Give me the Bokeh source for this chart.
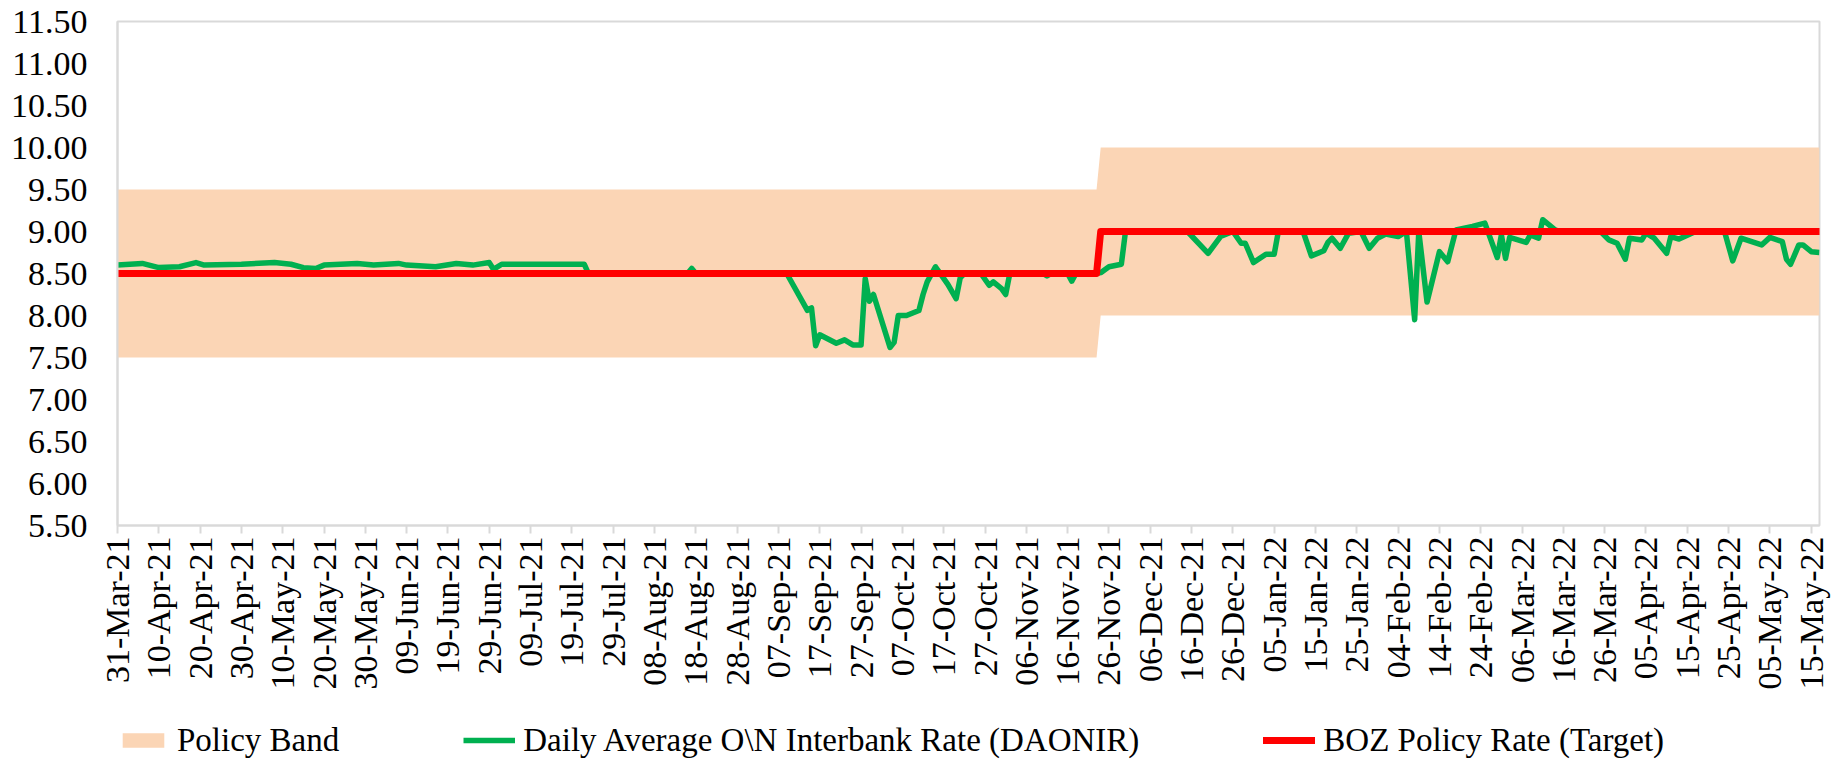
import numpy as np
import pandas as pd
from bokeh.plotting import figure
from bokeh.layouts import column
from bokeh.models import (Range1d, FixedTicker, NumeralTickFormatter, DatetimeTickFormatter,
                          ColumnDataSource, Legend, LegendItem)
from bokeh.embed import file_html
from bokeh.resources import INLINE

# ---------------- data ----------------
band_dates = ["2021-03-31", "2021-11-23", "2021-11-24", "2022-05-17"]
band_lower = [7.5, 7.5, 8.0, 8.0]
band_upper = [9.5, 9.5, 10.0, 10.0]

policy_dates = ["2021-03-31", "2021-11-23", "2021-11-24", "2022-05-17"]
policy_rate = [8.5, 8.5, 9.0, 9.0]

daonir_dates = [
    "2021-03-31", "2021-04-06", "2021-04-10", "2021-04-15", "2021-04-19", "2021-04-21",
    "2021-04-30", "2021-05-08", "2021-05-12", "2021-05-15", "2021-05-18", "2021-05-20",
    "2021-05-28", "2021-06-01", "2021-06-07", "2021-06-09", "2021-06-16", "2021-06-21",
    "2021-06-25", "2021-06-29", "2021-06-30", "2021-07-02", "2021-07-22", "2021-07-23",
    "2021-08-16", "2021-08-17", "2021-08-18", "2021-09-09", "2021-09-14", "2021-09-15",
    "2021-09-16", "2021-09-17", "2021-09-21", "2021-09-23", "2021-09-25", "2021-09-27",
    "2021-09-28", "2021-09-29", "2021-09-30", "2021-10-04", "2021-10-05", "2021-10-06",
    "2021-10-08", "2021-10-11", "2021-10-12", "2021-10-13", "2021-10-15", "2021-10-18",
    "2021-10-20", "2021-10-21", "2021-10-22", "2021-10-26", "2021-10-28", "2021-10-29",
    "2021-10-31", "2021-11-01", "2021-11-02", "2021-11-10", "2021-11-11", "2021-11-12",
    "2021-11-16", "2021-11-17", "2021-11-18", "2021-11-23", "2021-11-24", "2021-11-26",
    "2021-11-29", "2021-11-30", "2021-12-15", "2021-12-20", "2021-12-23", "2021-12-26",
    "2021-12-28", "2021-12-29", "2021-12-31", "2022-01-03", "2022-01-05", "2022-01-06",
    "2022-01-12", "2022-01-14", "2022-01-17", "2022-01-18", "2022-01-19", "2022-01-21",
    "2022-01-23", "2022-01-26", "2022-01-28", "2022-01-30", "2022-02-01", "2022-02-04",
    "2022-02-06", "2022-02-08", "2022-02-09", "2022-02-11", "2022-02-14", "2022-02-16",
    "2022-02-18", "2022-02-22", "2022-02-25", "2022-02-28", "2022-03-01", "2022-03-02",
    "2022-03-03", "2022-03-07", "2022-03-08", "2022-03-10", "2022-03-11", "2022-03-14",
    "2022-03-15", "2022-03-25", "2022-03-27", "2022-03-29", "2022-03-31", "2022-04-01",
    "2022-04-04", "2022-04-05", "2022-04-07", "2022-04-10", "2022-04-11", "2022-04-13",
    "2022-04-17", "2022-04-24", "2022-04-26", "2022-04-28", "2022-05-03", "2022-05-05",
    "2022-05-08", "2022-05-09", "2022-05-10", "2022-05-12", "2022-05-13", "2022-05-15",
    "2022-05-17",
]
daonir_values = [
    8.60, 8.62, 8.57, 8.58, 8.63, 8.60,
    8.61, 8.63, 8.61, 8.57, 8.56, 8.60,
    8.62, 8.60, 8.62, 8.60, 8.58, 8.62,
    8.60, 8.63, 8.55, 8.61, 8.61, 8.50,
    8.50, 8.56, 8.50, 8.50, 8.06, 8.09,
    7.64, 7.77, 7.67, 7.71, 7.65, 7.65,
    8.44, 8.17, 8.25, 7.62, 7.68, 8.00,
    8.00, 8.06, 8.25, 8.40, 8.58, 8.37,
    8.20, 8.45, 8.50, 8.50, 8.36, 8.40,
    8.32, 8.25, 8.50, 8.50, 8.47, 8.50,
    8.50, 8.41, 8.50, 8.50, 8.51, 8.58,
    8.61, 9.00, 9.00, 8.74, 8.94, 9.00,
    8.86, 8.86, 8.63, 8.73, 8.73, 9.00,
    9.00, 8.71, 8.77, 8.87, 8.92, 8.80,
    8.98, 9.00, 8.80, 8.92, 8.97, 8.94,
    9.00, 7.95, 9.00, 8.16, 8.76, 8.64,
    9.02, 9.06, 9.10, 8.69, 8.96, 8.68,
    8.93, 8.87, 8.96, 8.92, 9.14, 9.02,
    9.00, 9.00, 8.90, 8.86, 8.67, 8.92,
    8.90, 8.98, 8.92, 8.74, 8.94, 8.91,
    9.00, 9.00, 8.65, 8.92, 8.84, 8.93,
    8.88, 8.67, 8.61, 8.84, 8.84, 8.76,
    8.75,
]

x_tick_labels = [
    "31-Mar-21", "10-Apr-21", "20-Apr-21", "30-Apr-21", "10-May-21", "20-May-21",
    "30-May-21", "09-Jun-21", "19-Jun-21", "29-Jun-21", "09-Jul-21", "19-Jul-21",
    "29-Jul-21", "08-Aug-21", "18-Aug-21", "28-Aug-21", "07-Sep-21", "17-Sep-21",
    "27-Sep-21", "07-Oct-21", "17-Oct-21", "27-Oct-21", "06-Nov-21", "16-Nov-21",
    "26-Nov-21", "06-Dec-21", "16-Dec-21", "26-Dec-21", "05-Jan-22", "15-Jan-22",
    "25-Jan-22", "04-Feb-22", "14-Feb-22", "24-Feb-22", "06-Mar-22", "16-Mar-22",
    "26-Mar-22", "05-Apr-22", "15-Apr-22", "25-Apr-22", "05-May-22", "15-May-22",
]
y_ticks = [5.5, 6.0, 6.5, 7.0, 7.5, 8.0, 8.5, 9.0, 9.5, 10.0, 10.5, 11.0, 11.5]

legend_labels = ["Policy Band", "Daily Average O\\N Interbank Rate (DAONIR)",
                 "BOZ Policy Rate (Target)"]

# ---------------- styling ----------------
FONT = "Liberation Serif"
FS = "34px"
LFS = "33px"
GREY = "#D9D9D9"
BAND = "#FBD5B5"
GREEN = "#00B050"
RED = "#FF0000"

band_src = ColumnDataSource(dict(x=pd.to_datetime(band_dates), lo=band_lower, hi=band_upper))
pol_src = ColumnDataSource(dict(x=pd.to_datetime(policy_dates), y=policy_rate))
dao_src = ColumnDataSource(dict(x=pd.to_datetime(daonir_dates), y=daonir_values))

tick_ts = pd.to_datetime(x_tick_labels, format="%d-%b-%y")
tick_ms = [float(t.value // 10**6) for t in tick_ts]

x_rng = Range1d(pd.Timestamp("2021-03-31"), pd.Timestamp("2022-05-17"))

p = figure(width=1831, height=720, x_axis_type="datetime",
           x_range=x_rng, y_range=Range1d(5.5, 11.5),
           output_backend="svg", toolbar_location=None,
           min_border_left=117, min_border_right=12, min_border_top=21, min_border_bottom=195)

p.grid.visible = False
p.outline_line_color = GREY
p.outline_line_width = 2
p.background_fill_color = "white"
p.border_fill_color = "white"

band_style = dict(fill_color=BAND)
green_style = dict(line_color=GREEN, line_width=5.5, line_join="round")
red_style = dict(line_color=RED, line_width=7, line_join="round", line_cap="round")

p.varea(x="x", y1="lo", y2="hi", source=band_src, **band_style)
p.line(x="x", y="y", source=dao_src, **green_style)
p.line(x="x", y="y", source=pol_src, **red_style)

xa = p.xaxis[0]
xa.ticker = FixedTicker(ticks=tick_ms)
xa.formatter = DatetimeTickFormatter(days="%d-%b-%y", months="%d-%b-%y", years="%d-%b-%y")
xa.major_label_overrides = {ms: lbl for ms, lbl in zip(tick_ms, x_tick_labels)}
xa.major_label_orientation = np.pi / 2
xa.major_label_text_font = FONT
xa.major_label_text_font_size = FS
xa.major_label_text_color = "black"
xa.major_label_standoff = 3
xa.major_tick_out = 8
xa.major_tick_in = 0
xa.minor_tick_out = 0
xa.minor_tick_in = 0
xa.major_tick_line_color = GREY
xa.major_tick_line_width = 2
xa.axis_line_color = GREY
xa.axis_line_width = 2

ya = p.yaxis[0]
ya.ticker = FixedTicker(ticks=y_ticks)
ya.formatter = NumeralTickFormatter(format="0.00")
ya.major_label_text_font = FONT
ya.major_label_text_font_size = FS
ya.major_label_text_color = "black"
ya.major_label_standoff = 30
ya.major_tick_out = 0
ya.major_tick_in = 0
ya.minor_tick_out = 0
ya.minor_tick_in = 0
ya.axis_line_color = GREY
ya.axis_line_width = 2

# ---- legend strip (its own figure so the legend is not clipped) ----
lg = figure(width=1831, height=45, x_axis_type="datetime", x_range=x_rng,
            y_range=Range1d(100, 101), x_axis_location=None, y_axis_location=None,
            output_backend="svg", toolbar_location=None,
            min_border_left=117, min_border_right=12, min_border_top=0, min_border_bottom=0)
lg.grid.visible = False
lg.outline_line_color = None
lg.background_fill_color = "white"
lg.border_fill_color = "white"

lb = lg.varea(x="x", y1="lo", y2="hi", source=band_src, **band_style)
lgr = lg.line(x="x", y="y", source=dao_src, **green_style)
lr = lg.line(x="x", y="y", source=pol_src, **red_style)

legend = Legend(items=[LegendItem(label=legend_labels[0], renderers=[lb]),
                       LegendItem(label=legend_labels[1], renderers=[lgr]),
                       LegendItem(label=legend_labels[2], renderers=[lr])],
                orientation="horizontal", location="top_left",
                padding=0, margin=0, spacing=124,
                glyph_width=52, glyph_height=18, label_height=40, label_standoff=8,
                label_text_font=FONT, label_text_font_size=LFS, label_text_color="black",
                border_line_alpha=0, background_fill_alpha=0)
lg.add_layout(legend, "center")

layout = column(p, lg, spacing=0)
open("out.html", "w").write(file_html(layout, INLINE))
